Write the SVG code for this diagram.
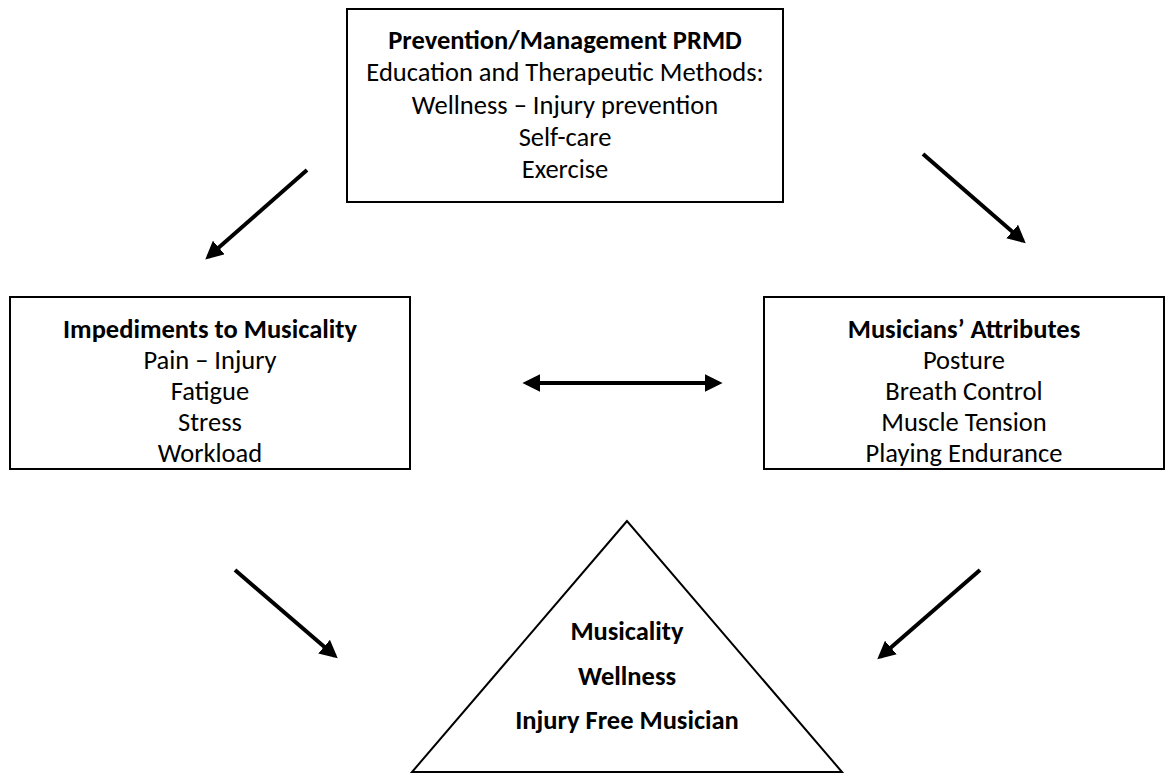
<svg xmlns="http://www.w3.org/2000/svg" width="1174" height="778" viewBox="0 0 1174 778">
<style>
.box{fill:#fff;stroke:#000;stroke-width:2}
.t{font-family:Carlito,Lato,"Liberation Sans",sans-serif;font-size:26.5px;fill:#000;text-anchor:middle}
.b{font-weight:bold}
.c{stroke:#000;stroke-width:4;fill:none}
</style>
<defs>
<marker id="ah" viewBox="0 0 10 10" refX="8" refY="5" markerWidth="4.5" markerHeight="4.5" orient="auto-start-reverse" markerUnits="strokeWidth">
<path d="M0,0 L10,5 L0,10 z" fill="#000"/>
</marker>
</defs>
<rect width="1174" height="778" fill="#fff"/>
<g id="prevention">
<rect class="box" x="347" y="9" width="436" height="193"/>
<text class="t b" x="565" y="49">Prevention/Management PRMD</text>
<text class="t" x="565" y="81">Education and Therapeutic Methods:</text>
<text class="t" x="565" y="114">Wellness – Injury prevention</text>
<text class="t" x="565" y="146">Self-care</text>
<text class="t" x="565" y="178">Exercise</text>
</g>
<g id="impediments">
<rect class="box" x="10" y="297" width="400" height="172"/>
<text class="t b" x="210" y="338">Impediments to Musicality</text>
<text class="t" x="210" y="369">Pain – Injury</text>
<text class="t" x="210" y="400">Fatigue</text>
<text class="t" x="210" y="431">Stress</text>
<text class="t" x="210" y="462">Workload</text>
</g>
<g id="attributes">
<rect class="box" x="764" y="297" width="400" height="172"/>
<text class="t b" x="964" y="338">Musicians’ Attributes</text>
<text class="t" x="964" y="369">Posture</text>
<text class="t" x="964" y="400">Breath Control</text>
<text class="t" x="964" y="431">Muscle Tension</text>
<text class="t" x="964" y="462">Playing Endurance</text>
</g>
<g id="outcome">
<path class="box" d="M627,521 L412,772 L842,772 Z"/>
<text class="t b" x="627" y="640">Musicality</text>
<text class="t b" x="627" y="685">Wellness</text>
<text class="t b" x="627" y="729">Injury Free Musician</text>
</g>
<g id="connectors">
<line class="c" x1="307" y1="170" x2="208" y2="257" marker-end="url(#ah)"/>
<line class="c" x1="923" y1="154" x2="1023" y2="241" marker-end="url(#ah)"/>
<line class="c" x1="526" y1="383" x2="719" y2="383" marker-start="url(#ah)" marker-end="url(#ah)"/>
<line class="c" x1="235" y1="570" x2="335" y2="656" marker-end="url(#ah)"/>
<line class="c" x1="980" y1="570" x2="880" y2="657" marker-end="url(#ah)"/>
</g>
</svg>
